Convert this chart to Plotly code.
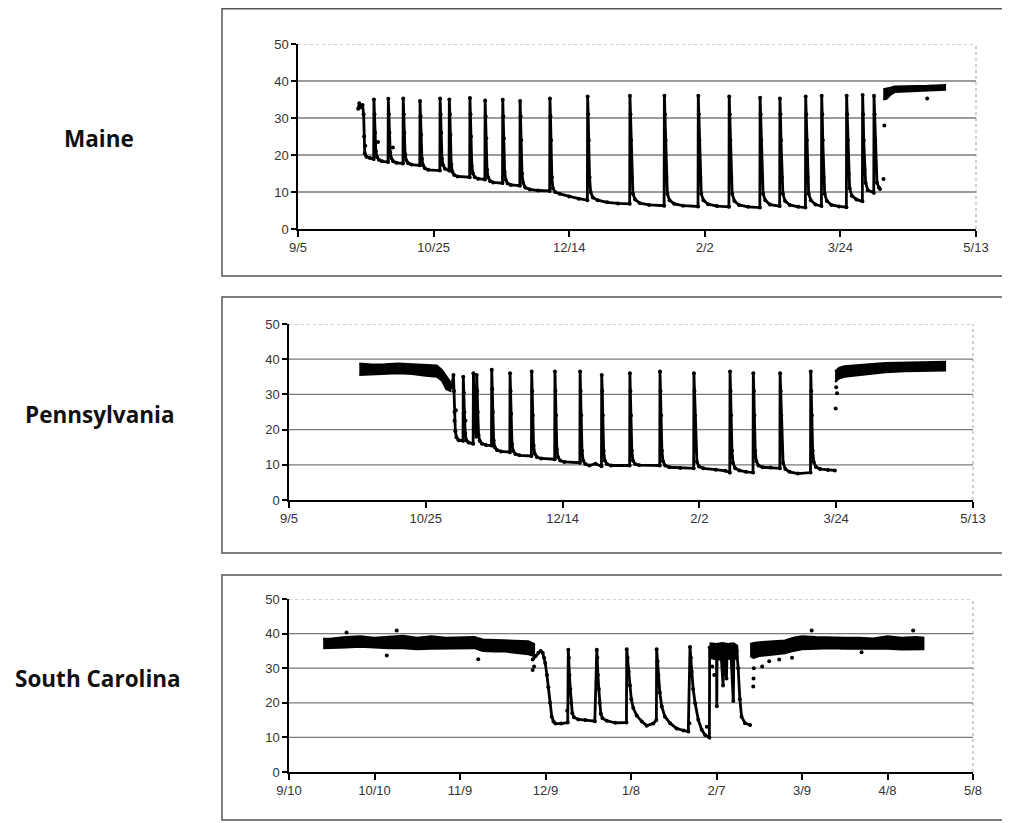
import pandas as pd
import plotly.graph_objects as go

# ---------------- data ----------------
maine_start = "2008-09-05"
pa_start = "2008-09-05"
sc_start = "2008-09-10"

maine_tick_dates = ["2008-09-05", "2008-10-25", "2008-12-14", "2009-02-02", "2009-03-24", "2009-05-13"]
maine_tick_labels = ["9/5", "10/25", "12/14", "2/2", "3/24", "5/13"]
pa_tick_dates = maine_tick_dates
pa_tick_labels = maine_tick_labels
sc_tick_dates = ["2008-09-10", "2008-10-10", "2008-11-09", "2008-12-09", "2009-01-08",
                 "2009-02-07", "2009-03-09", "2009-04-08", "2009-05-08"]
sc_tick_labels = ["9/10", "10/10", "11/9", "12/9", "1/8", "2/7", "3/9", "4/8", "5/8"]

y_ticks = [0, 10, 20, 30, 40, 50]
grid_values = [10, 20, 30, 40]

# Maine: days since 9/5 and temperature readings
maine_day = [
    22.2, 22.6, 23.2, 23.8, 24.2, 24.4, 24.6, 25.2, 26.5, 27.9,
    28.0, 28.2, 28.4, 28.7, 29.1, 29.8, 31.0, 33.2,
    33.3, 33.5, 33.7, 34.0, 34.4, 35.1, 36.3, 38.7,
    38.8, 39.0, 39.2, 39.5, 39.9, 40.6, 41.8, 44.9,
    45.0, 45.2, 45.4, 45.7, 46.1, 46.8, 48.0, 52.3,
    52.4, 52.6, 52.8, 53.1, 53.5, 54.2, 55.7,
    55.8, 56.0, 56.2, 56.5, 56.9, 57.6, 58.8, 63.3,
    63.4, 63.6, 63.8, 64.1, 64.5, 65.2, 66.4, 68.9,
    69.0, 69.2, 69.4, 69.7, 70.1, 70.8, 72.0, 75.4,
    75.5, 75.7, 75.9, 76.2, 76.6, 77.3, 78.5, 81.8,
    81.9, 82.1, 82.3, 82.6, 83.0, 83.8, 85.5, 88.5, 92.8,
    92.9, 93.1, 93.3, 93.6, 94.0, 94.8, 96.5, 100.0, 103.5, 106.7,
    106.8, 107.0, 107.2, 107.5, 107.9, 108.7, 110.5, 114.0, 118.0, 122.3,
    122.4, 122.6, 122.8, 123.1, 123.5, 124.3, 126.0, 129.5, 135.0,
    135.1, 135.3, 135.5, 135.8, 136.2, 137.0, 138.7, 142.0, 147.5,
    147.6, 147.8, 148.0, 148.3, 148.7, 149.5, 151.2, 154.5, 158.9,
    159.0, 159.2, 159.4, 159.7, 160.1, 160.9, 162.6, 166.0, 170.3,
    170.4, 170.6, 170.8, 171.1, 171.5, 172.3, 174.0, 177.6,
    177.7, 177.9, 178.1, 178.4, 178.8, 179.6, 181.3, 184.5, 187.1,
    187.2, 187.4, 187.6, 187.9, 188.3, 189.1, 190.8, 193.0,
    193.1, 193.3, 193.5, 193.8, 194.2, 195.0, 196.7, 199.5, 202.2,
    202.3, 202.5, 202.7, 203.0, 203.4, 204.2, 205.9, 208.1,
    208.2, 208.4, 208.6, 208.9, 209.3, 210.1, 212.3,
    212.4, 212.6, 212.8, 213.1, 213.5, 214.2, 214.6,
]
maine_temp = [
    32.5, 34.0, 33.0, 33.5, 31.0, 25.0, 20.5, 19.5, 19.2, 18.9,
    35.0, 31.0, 26.0, 21.0, 19.5, 18.7, 18.3, 18.1,
    35.2, 31.0, 26.0, 20.7, 19.1, 18.3, 17.9, 17.7,
    35.3, 31.0, 26.0, 20.2, 18.6, 17.8, 17.4, 17.2,
    34.6, 30.5, 25.5, 19.0, 17.2, 16.4, 16.0, 15.8,
    35.3, 31.0, 26.0, 19.0, 17.2, 16.3, 15.8,
    35.0, 31.0, 25.5, 17.5, 15.5, 14.6, 14.2, 14.0,
    35.4, 31.0, 25.0, 17.0, 15.0, 14.0, 13.6, 13.4,
    34.7, 30.5, 24.5, 16.0, 14.0, 13.0, 12.6, 12.4,
    34.9, 30.5, 24.5, 15.5, 13.3, 12.3, 11.9, 11.7,
    34.6, 30.5, 24.0, 15.0, 12.5, 11.2, 10.7, 10.4, 10.3,
    35.3, 30.5, 24.0, 14.0, 11.0, 10.0, 9.5, 8.8, 8.2, 7.8,
    35.8, 31.0, 24.0, 14.0, 10.0, 8.5, 7.8, 7.2, 6.9, 6.8,
    36.0, 31.0, 24.0, 14.0, 9.5, 8.0, 7.0, 6.5, 6.3,
    36.0, 31.0, 24.0, 14.0, 9.5, 7.8, 6.8, 6.3, 6.1,
    36.0, 31.0, 24.0, 14.0, 9.5, 7.8, 6.7, 6.2, 6.0,
    35.8, 31.0, 24.0, 14.0, 9.5, 7.6, 6.5, 6.0, 5.8,
    35.5, 31.0, 24.0, 14.0, 9.5, 7.8, 6.6, 6.2,
    35.3, 31.0, 24.0, 14.0, 9.5, 7.6, 6.5, 6.0, 5.8,
    35.8, 31.0, 24.0, 14.0, 9.5, 7.8, 6.6, 6.2,
    36.0, 31.0, 24.0, 14.0, 9.5, 7.6, 6.5, 6.1, 5.9,
    36.0, 31.0, 24.0, 15.0, 11.0, 9.0, 8.0, 7.5,
    36.2, 31.0, 24.0, 16.0, 12.5, 10.5, 9.8,
    36.0, 31.0, 24.0, 16.0, 12.5, 11.2, 10.8,
]
maine_band_day = [215.8, 217.0, 218.5, 220.0, 223.0, 226.0, 229.0, 232.0, 235.0, 238.6]
maine_band_lo = [35.0, 35.2, 36.3, 37.0, 37.2, 37.3, 37.4, 37.4, 37.5, 37.6]
maine_band_hi = [37.8, 37.9, 38.2, 38.5, 38.5, 38.6, 38.7, 38.7, 38.8, 38.9]
maine_out_day = [216.2, 215.9, 232.0, 24.8, 29.5, 35.0]
maine_out_temp = [28.0, 13.5, 35.3, 22.5, 23.5, 22.0]

# Pennsylvania
pa_day = [
    59.5,
    60.1, 60.3, 60.5, 60.8, 61.2, 62.0, 63.6,
    63.7, 63.9, 64.1, 64.4, 64.8, 65.6, 67.3,
    67.4, 67.6, 67.8, 68.1, 68.5,
    68.6, 68.8, 69.0, 69.3, 69.7, 70.5, 72.0, 74.0,
    74.1, 74.3, 74.5, 74.8, 75.2, 76.0, 77.5, 80.7,
    80.8, 81.0, 81.2, 81.5, 81.9, 82.7, 84.2, 88.6,
    88.7, 88.9, 89.1, 89.4, 89.8, 90.6, 92.1, 97.1,
    97.2, 97.4, 97.6, 97.9, 98.3, 99.1, 100.6, 106.3,
    106.4, 106.6, 106.8, 107.1, 107.5, 108.3, 109.8, 112.0, 114.2,
    114.3, 114.5, 114.7, 115.0, 115.4, 116.2, 117.7, 124.5,
    124.6, 124.8, 125.0, 125.3, 125.7, 126.5, 128.0, 135.5,
    135.6, 135.8, 136.0, 136.3, 136.7, 137.5, 139.0, 143.0, 147.9,
    148.0, 148.2, 148.4, 148.7, 149.1, 149.9, 151.4, 156.0, 159.5, 161.1,
    161.2, 161.4, 161.6, 161.9, 162.3, 163.1, 164.6, 167.0, 169.6,
    169.7, 169.9, 170.1, 170.4, 170.8, 171.6, 173.1, 176.0, 179.4,
    179.5, 179.7, 179.9, 180.2, 180.6, 181.4, 182.9, 186.0, 190.6,
    190.7, 190.9, 191.1, 191.4, 191.8, 192.6, 194.1, 197.0, 199.5,
]
pa_temp = [
    32.0,
    35.5, 31.0, 25.0, 19.5, 17.8, 17.0, 16.8,
    35.0, 30.5, 25.0, 19.0, 17.0, 16.3, 16.0,
    36.0, 31.0, 25.0, 20.0, 18.0,
    35.5, 31.0, 25.0, 18.5, 16.8, 16.0, 15.6, 15.5,
    37.0, 31.5, 25.0, 17.0, 15.0, 14.2, 13.8, 13.6,
    36.0, 31.0, 24.5, 16.0, 14.0, 13.1, 12.7, 12.5,
    36.5, 31.0, 24.0, 15.5, 13.2, 12.2, 11.8, 11.6,
    36.5, 31.0, 24.0, 14.5, 12.2, 11.2, 10.8, 10.6,
    36.5, 31.0, 24.0, 14.0, 11.2, 10.2, 9.8, 10.3, 9.6,
    35.5, 31.0, 24.0, 14.0, 11.2, 10.2, 9.8, 9.8,
    36.0, 31.0, 24.0, 14.0, 11.2, 10.2, 9.9, 9.8,
    36.5, 31.0, 24.0, 14.0, 11.0, 9.8, 9.3, 9.1, 9.0,
    36.0, 31.0, 24.0, 14.0, 10.8, 9.5, 9.0, 8.6, 8.3, 7.8,
    36.5, 31.0, 24.0, 14.0, 10.5, 9.0, 8.4, 8.0, 7.8,
    36.0, 31.0, 24.0, 14.0, 11.0, 9.8, 9.3, 9.2, 9.0,
    36.0, 31.0, 24.0, 14.0, 10.5, 8.8, 8.0, 7.5, 7.8,
    36.5, 31.0, 24.0, 14.0, 10.8, 9.4, 8.8, 8.5, 8.4,
]
pa_band1_day = [25.7, 30.0, 35.0, 40.0, 45.0, 50.0, 54.0, 55.8, 57.5, 59.0]
pa_band1_lo = [35.5, 35.8, 35.8, 36.0, 35.8, 35.3, 35.0, 34.0, 31.5, 31.0]
pa_band1_hi = [38.8, 38.5, 38.6, 38.8, 38.6, 38.4, 38.2, 37.0, 35.0, 33.5]
pa_band2_day = [199.6, 201.0, 203.0, 207.0, 212.0, 218.0, 225.0, 232.0, 239.8]
pa_band2_lo = [33.5, 34.5, 35.0, 35.3, 35.8, 36.3, 36.6, 36.8, 36.8]
pa_band2_hi = [36.5, 37.5, 38.0, 38.3, 38.6, 38.9, 39.0, 39.2, 39.3]
pa_out_day = [199.8, 200.3, 200.0, 60.5, 64.5, 68.0, 61.0]
pa_out_temp = [26.0, 30.3, 32.0, 22.5, 22.5, 23.0, 25.5]

# South Carolina: days since 9/10
sc_day = [
    85.5, 86.5, 87.5, 88.3, 89.0, 89.5, 89.9, 90.5, 91.0, 91.6, 92.2, 92.8, 93.5, 95.5, 97.8,
    98.0, 98.2, 98.4, 98.7, 99.0, 99.4, 100.0, 101.5, 104.0, 107.3,
    108.0, 108.2, 108.4, 108.7, 109.0, 109.4, 110.0, 111.5, 114.5, 118.4,
    118.5, 118.8, 119.2, 119.6, 120.1, 120.8, 122.0, 123.8, 125.5, 127.8, 128.9,
    129.0, 129.3, 129.6, 130.1, 130.8, 131.9, 133.7, 136.0, 138.4, 140.1,
    140.7, 141.0, 141.3, 141.8, 142.5, 143.6, 144.8, 146.0, 147.5,
    147.6, 148.5, 150.0, 150.1, 150.2, 151.5, 152.3, 152.5, 153.5, 153.7,
    155.0, 155.9, 156.1, 157.1, 157.6, 158.2, 158.8, 160.0, 161.8,
]
sc_temp = [
    32.5, 33.5, 34.5, 35.0, 34.5, 33.0, 31.5, 28.0, 24.5, 20.0, 16.0, 14.6, 14.0, 14.0, 14.3,
    35.3, 33.0, 28.0, 24.0, 20.0, 17.0, 15.8, 15.2, 15.0, 14.7,
    35.3, 33.0, 28.0, 24.0, 20.0, 16.8, 15.5, 14.8, 14.2, 14.3,
    35.5, 33.0, 29.0, 25.0, 21.0, 18.5, 16.3, 14.6, 13.4, 14.0, 15.0,
    35.5, 32.0, 28.0, 23.0, 18.9, 16.0, 14.1, 12.6, 12.0, 11.7,
    36.1, 33.0, 29.0, 24.0, 19.9, 15.1, 12.2, 10.7, 10.0,
    36.0, 35.0, 34.0, 19.0, 34.0, 35.5, 25.0, 34.0, 27.0, 34.5,
    35.0, 20.5, 34.0, 35.0, 30.0, 21.0, 16.0, 14.1, 13.6,
]
sc_band1_day = [12.0, 15.0, 20.0, 25.0, 30.0, 35.0, 40.0, 45.0, 50.0, 55.0, 60.0,
                65.0, 68.0, 72.0, 76.0, 80.0, 84.0, 86.0]
sc_band1_lo = [35.8, 35.8, 36.0, 36.2, 36.0, 35.8, 35.8, 35.5, 35.6, 35.8, 35.8,
               35.8, 35.0, 34.8, 34.8, 34.5, 34.0, 33.5]
sc_band1_hi = [38.5, 38.6, 39.0, 39.2, 38.8, 39.0, 39.4, 38.8, 39.2, 38.8, 38.8,
               39.0, 38.3, 38.2, 38.0, 38.0, 37.8, 37.0]
sc_band2_day = [147.6, 150.0, 152.0, 154.0, 156.0, 157.3]
sc_band2_lo = [33.0, 32.5, 32.5, 32.8, 32.5, 33.0]
sc_band2_hi = [37.2, 37.0, 37.3, 37.0, 37.2, 36.5]
sc_band3_day = [161.8, 163.0, 165.0, 168.0, 171.0, 174.0, 177.0, 180.0, 185.0, 190.0,
                195.0, 200.0, 205.0, 210.0, 215.0, 220.0, 222.6]
sc_band3_lo = [33.5, 33.0, 33.5, 33.8, 34.0, 34.3, 35.0, 35.5, 35.6, 35.8,
               35.6, 35.6, 35.5, 35.6, 35.4, 35.4, 35.5]
sc_band3_hi = [37.0, 37.3, 37.5, 37.6, 37.8, 38.0, 38.8, 39.2, 39.0, 38.8,
               38.8, 38.8, 38.6, 39.2, 38.8, 39.0, 38.8]
sc_out_day = [34.3, 66.4, 20.2, 37.8, 85.5, 86.0, 97.6, 140.5, 146.6, 162.9, 163.0, 163.1,
              166.0, 168.5, 172.0, 176.5, 183.4, 200.9, 219.0, 148.5, 149.2]
sc_out_temp = [33.7, 32.6, 40.3, 40.9, 29.5, 30.5, 17.7, 14.1, 13.1, 24.7, 27.0, 30.0,
               30.5, 32.0, 32.5, 33.0, 40.9, 34.6, 40.9, 30.5, 28.0]

state_names = ["Maine", "Pennsylvania", "South Carolina"]

# ---------------- helpers ----------------
def to_dates(start, days):
    return list(pd.Timestamp(start) + pd.to_timedelta(days, unit="D"))


def band_polygon(start, days, lo, hi):
    xs = to_dates(start, days + days[::-1])
    ys = hi + lo[::-1]
    return xs, ys


# the page body adds an 8px margin; the figure is sized and offset to compensate
OX, OY = 8, 8
W, H = 1002, 815


def px(xp):
    return (xp - OX) / W


def py(yp):
    return 1 - (yp - OY) / H


fig = go.Figure()

panels = [
    dict(name="x", yname="y", start=maine_start, end="2009-05-13",
         tick_dates=maine_tick_dates, tick_labels=maine_tick_labels,
         line=(maine_day, maine_temp),
         bands=[(maine_band_day, maine_band_lo, maine_band_hi)],
         out=(maine_out_day, maine_out_temp),
         xdom=[px(298), px(976)], ydom=[py(229), py(44)],
         box=(222, 8.8, 1008, 276), label=(98.5, 139)),
    dict(name="x2", yname="y2", start=pa_start, end="2009-05-13",
         tick_dates=pa_tick_dates, tick_labels=pa_tick_labels,
         line=(pa_day, pa_temp),
         bands=[(pa_band1_day, pa_band1_lo, pa_band1_hi),
                (pa_band2_day, pa_band2_lo, pa_band2_hi)],
         out=(pa_out_day, pa_out_temp),
         xdom=[px(289), px(973)], ydom=[py(500), py(324)],
         box=(222, 297, 1008, 553), label=(99.5, 414)),
    dict(name="x3", yname="y3", start=sc_start, end="2009-05-08",
         tick_dates=sc_tick_dates, tick_labels=sc_tick_labels,
         line=(sc_day, sc_temp),
         bands=[(sc_band1_day, sc_band1_lo, sc_band1_hi),
                (sc_band2_day, sc_band2_lo, sc_band2_hi),
                (sc_band3_day, sc_band3_lo, sc_band3_hi)],
         out=(sc_out_day, sc_out_temp),
         xdom=[px(289), px(973)], ydom=[py(772), py(599)],
         box=(222, 575, 1008, 820), label=(98, 678)),
]

shapes = []
annotations = []
layout_axes = {}
tick_font = dict(family="Liberation Sans, Arial, sans-serif", size=13, color="#333333")

for i, p in enumerate(panels):
    xa, ya = p["name"], p["yname"]
    for bd, lo, hi in p["bands"]:
        bx, by = band_polygon(p["start"], bd, lo, hi)
        fig.add_trace(go.Scatter(x=bx, y=by, mode="lines", fill="toself",
                                 fillcolor="black", line=dict(color="black", width=2),
                                 xaxis=xa, yaxis=ya, hoverinfo="skip"))
    d, t = p["line"]
    fig.add_trace(go.Scatter(x=to_dates(p["start"], d), y=t, mode="lines+markers",
                             line=dict(color="black", width=2.8),
                             marker=dict(color="black", size=4),
                             xaxis=xa, yaxis=ya))
    od, ot = p["out"]
    fig.add_trace(go.Scatter(x=to_dates(p["start"], od), y=ot, mode="markers",
                             marker=dict(color="black", size=4),
                             xaxis=xa, yaxis=ya))

    suffix = "" if i == 0 else str(i + 1)
    layout_axes["xaxis" + suffix] = dict(
        domain=p["xdom"], anchor=ya, type="date", automargin=False,
        range=[p["start"], p["end"]],
        tickvals=p["tick_dates"], ticktext=p["tick_labels"],
        showline=True, linecolor="black", linewidth=1.5,
        ticks="outside", ticklen=6, tickwidth=1.5, tickcolor="black",
        showgrid=False, zeroline=False, tickfont=tick_font,
    )
    layout_axes["yaxis" + suffix] = dict(
        domain=p["ydom"], anchor=xa, range=[0, 50], automargin=False,
        tickvals=y_ticks,
        showline=True, linecolor="black", linewidth=1.5,
        ticks="outside", ticklen=5, tickwidth=1.5, tickcolor="black",
        showgrid=False, zeroline=False, tickfont=tick_font,
    )
    for g in grid_values:
        shapes.append(dict(type="line", xref=xa + " domain", yref=ya, x0=0, x1=1,
                           y0=g, y1=g, line=dict(color="#7a7a7a", width=1.3),
                           layer="below"))
    shapes.append(dict(type="line", xref=xa + " domain", yref=ya, x0=0, x1=1,
                       y0=50, y1=50, line=dict(color="#a0a0a0", width=1, dash="dot"),
                       layer="below"))
    shapes.append(dict(type="line", xref=xa + " domain", yref=ya + " domain", x0=1, x1=1,
                       y0=0, y1=1, line=dict(color="#a0a0a0", width=1, dash="dot"),
                       layer="below"))
    bx0, by0, bx1, by1 = p["box"]
    shapes.append(dict(type="rect", xref="paper", yref="paper",
                       x0=px(bx0), x1=px(bx1), y0=py(by1), y1=py(by0),
                       line=dict(color="#555555", width=1.5), fillcolor="rgba(0,0,0,0)"))
    lx, ly = p["label"]
    annotations.append(dict(text="<b>" + state_names[i] + "</b>", xref="paper", yref="paper",
                            x=px(lx), y=py(ly), showarrow=False,
                            xanchor="center", yanchor="middle",
                            font=dict(family="Open Sans, sans-serif", size=22.5, color="#111111")))

fig.update_layout(
    width=W, height=H,
    margin=dict(l=0, r=0, t=0, b=0, autoexpand=False),
    paper_bgcolor="white", plot_bgcolor="white",
    showlegend=False,
    shapes=shapes, annotations=annotations,
    **layout_axes,
)

fig.write_html("out.html")
